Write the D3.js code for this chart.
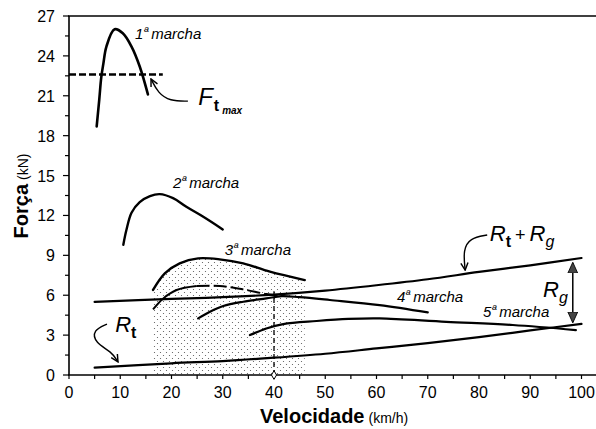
<!DOCTYPE html>
<html><head><meta charset="utf-8">
<script src="https://cdn.jsdelivr.net/npm/d3@7"></script>
<style>body{margin:0;background:#fff}svg{display:block}</style>
</head><body>
<svg id="c" width="596" height="429"></svg>
<script>
// ---------- data ----------
const xTickValues = [0,10,20,30,40,50,60,70,80,90,100];
const xMinorTicks = [5,15,25,35,45,55,65,75,85,95];
const yTickValues = [0,3,6,9,12,15,18,21,24,27];
const yMinorTicks = [1.5,4.5,7.5,10.5,13.5,16.5,19.5,22.5,25.5];

const gear1V = [5.4, 5.9, 6.3, 6.7, 7.3, 8.9, 10.5, 12.2, 13.8, 15.4];
const gear1F = [18.7, 20.7, 22.4, 23.4, 24.7, 26.0, 25.7, 24.7, 23.2, 21.1];

const gear2V = [10.6, 11.2, 12.2, 13.8, 15.8, 17.7, 20.3, 22.9, 26.2, 30.0];
const gear2F = [9.8, 10.9, 12.2, 13.0, 13.45, 13.6, 13.3, 12.65, 11.9, 10.95];

const gear3V = [16.4, 18.7, 21.6, 25.2, 29.4, 34.0, 39.2, 46.0];
const gear3F = [6.4, 7.65, 8.4, 8.77, 8.7, 8.4, 7.77, 7.14];

const midV = [16.4, 18.4, 21.0, 24.9, 29.4, 34.0, 38.5, 41.5];
const midF = [4.94, 5.76, 6.39, 6.69, 6.69, 6.44, 6.09, 5.95];

const gear4V = [25.2, 27.5, 30.1, 34.0, 38.5, 41.5, 45.0, 50.9, 60.6, 70.0];
const gear4F = [4.26, 4.76, 5.19, 5.51, 5.76, 5.93, 5.85, 5.64, 5.26, 4.71];

const gear5V = [35.3, 38.5, 41.8, 48.3, 54.5, 60.6, 73.6, 86.6, 98.9];
const gear5F = [3.0, 3.5, 3.83, 4.06, 4.22, 4.26, 4.0, 3.76, 3.38];

const rtV = [5, 20, 30, 40, 50, 60, 70, 80, 90, 100];
const rtF = [0.55, 0.88, 1.05, 1.3, 1.6, 2.0, 2.4, 2.85, 3.35, 3.85];

const rtgV = [5, 20, 30, 40, 50, 60, 70, 80, 90, 100];
const rtgF = [5.5, 5.72, 5.85, 6.05, 6.35, 6.75, 7.2, 7.75, 8.25, 8.8];

const ftMax = 22.6;
const ftMaxRange = [0, 18.3];
const refSpeed = 40;
const refSpeedTop = 6.3;
const rgSpeed = 98.3;
const rgRange = [8.4, 4.0];

const gearLabels = ["1", "2", "3", "4", "5"];
const gearLabelV = [12.9, 20.3, 30.4, 64.0, 80.8];
const gearLabelF = [25.26, 14.06, 9.02, 5.49, 4.36];

// annotation arrow paths (data units)
const ftArrowV = [23.2, 19.7, 17.4, 16.0];
const ftArrowF = [20.6, 20.6, 21.2, 22.26];
const rtArrowV = [7.41, 4.68, 5.07, 8.39, 9.56];
const rtArrowF = [3.83, 3.38, 2.41, 1.73, 0.98];
const rtgArrowV = [81.6, 78.2, 76.9, 77.3];
const rtgArrowF = [10.53, 10.30, 9.40, 7.89];

// ---------- chart ----------
const W = 596, H = 429;
const svg = d3.select("#c");
const FONT = "'Liberation Sans', Arial, Helvetica, sans-serif";
const x = d3.scaleLinear().domain([0,100]).range([69, 581.5]);
const y = d3.scaleLinear().domain([0,27]).range([375, 16]);

const defs = svg.append("defs");
const pat = defs.append("pattern").attr("id","dots").attr("patternUnits","userSpaceOnUse")
  .attr("width",6).attr("height",6);
pat.append("circle").attr("cx",1.5).attr("cy",1.5).attr("r",0.6).attr("fill","#555");
pat.append("circle").attr("cx",4.5).attr("cy",4.5).attr("r",0.6).attr("fill","#555");

defs.append("marker").attr("id","openArrow").attr("viewBox","0 0 10 10")
  .attr("refX",9).attr("refY",5).attr("markerWidth",9).attr("markerHeight",9)
  .attr("markerUnits","userSpaceOnUse").attr("orient","auto")
  .append("path").attr("d","M1,1 L9,5 L1,9").attr("fill","none").attr("stroke","#000").attr("stroke-width",1.6);

defs.append("marker").attr("id","triEnd").attr("viewBox","0 0 10 10")
  .attr("refX",9).attr("refY",5).attr("markerWidth",11).attr("markerHeight",11)
  .attr("markerUnits","userSpaceOnUse").attr("orient","auto")
  .append("path").attr("d","M0,0.5 L10,5 L0,9.5 Z").attr("fill","#444").attr("stroke","#000").attr("stroke-width",0.8);
defs.append("marker").attr("id","triStart").attr("viewBox","0 0 10 10")
  .attr("refX",1).attr("refY",5).attr("markerWidth",11).attr("markerHeight",11)
  .attr("markerUnits","userSpaceOnUse").attr("orient","auto")
  .append("path").attr("d","M10,0.5 L0,5 L10,9.5 Z").attr("fill","#444").attr("stroke","#000").attr("stroke-width",0.8);

const zip = (a,b) => a.map((v,i)=>[v,b[i]]);
const line = d3.line().x(d=>x(d[0])).y(d=>y(d[1])).curve(d3.curveCatmullRom.alpha(0.5));
const lineBasis = d3.line().x(d=>x(d[0])).y(d=>y(d[1])).curve(d3.curveBasis);

// stippled area under 3rd gear
const area = d3.area().x(d=>x(d[0])).y0(y(0)).y1(d=>y(d[1])).curve(d3.curveCatmullRom.alpha(0.5));
svg.append("path").attr("d", area(zip(gear3V,gear3F))).attr("fill","url(#dots)");

// axes
const gx = svg.append("g").attr("transform",`translate(0,${y(0)})`);
gx.append("line").attr("x1",x(0)-1).attr("x2",W).attr("stroke","#000").attr("stroke-width",1.6);
gx.selectAll(".mj").data(xTickValues.concat(xMinorTicks)).join("line")
  .attr("x1",d=>x(d)).attr("x2",d=>x(d)).attr("y1",0).attr("y2",4).attr("stroke","#000").attr("stroke-width",1.2);
gx.selectAll("text").data(xTickValues).join("text")
  .attr("x",d=>x(d)).attr("y",23).attr("text-anchor","middle")
  .attr("font-family",FONT).attr("font-size",16).text(d=>d);

const gy = svg.append("g").attr("transform",`translate(${x(0)},0)`);
gy.append("line").attr("y1",y(0)).attr("y2",y(27)).attr("stroke","#000").attr("stroke-width",1.6);
gy.selectAll(".mj").data(yTickValues).join("line")
  .attr("x1",-6).attr("x2",0).attr("y1",d=>y(d)).attr("y2",d=>y(d)).attr("stroke","#000").attr("stroke-width",1.2);
gy.selectAll(".mn").data(yMinorTicks).join("line")
  .attr("x1",-4).attr("x2",0).attr("y1",d=>y(d)).attr("y2",d=>y(d)).attr("stroke","#000").attr("stroke-width",1.2);
gy.selectAll("text").data(yTickValues).join("text")
  .attr("x",-14).attr("y",d=>y(d)+6).attr("text-anchor","end")
  .attr("font-family",FONT).attr("font-size",16).text(d=>d);
// top frame line
svg.append("line").attr("x1",x(0)-1).attr("x2",W).attr("y1",y(27)).attr("y2",y(27))
  .attr("stroke","#000").attr("stroke-width",1.6);

// axis titles
const xt = svg.append("text").attr("x",260).attr("y",423).attr("font-family",FONT).attr("font-weight","bold");
xt.append("tspan").attr("font-size",20).text("Velocidade");
xt.append("tspan").attr("font-size",14).attr("font-weight","normal").attr("dx",4).text("(km/h)");
const yt = svg.append("text").attr("transform",`translate(28,196) rotate(-90)`).attr("text-anchor","middle")
  .attr("font-family",FONT).attr("font-weight","bold");
yt.append("tspan").attr("font-size",20).text("Força");
yt.append("tspan").attr("font-size",14).attr("font-weight","normal").attr("dx",4).text("(kN)");

// curves
const curves = [[gear1V,gear1F,2.6],[gear2V,gear2F,2.4],[gear3V,gear3F,2.4],[gear4V,gear4F,2.2],
  [gear5V,gear5F,2.2],[rtV,rtF,2.2],[rtgV,rtgF,2.2]];
curves.forEach(([v,f,w]) => {
  svg.append("path").attr("d", line(zip(v,f))).attr("fill","none").attr("stroke","#000")
    .attr("stroke-width",w).attr("stroke-linecap","round");
});
// middle curve: solid start, dashed remainder
svg.append("path").attr("d", line(zip(midV.slice(0,4),midF.slice(0,4)))).attr("fill","none")
  .attr("stroke","#000").attr("stroke-width",2);
svg.append("path").attr("d", line(zip(midV.slice(3),midF.slice(3)))).attr("fill","none")
  .attr("stroke","#000").attr("stroke-width",2).attr("stroke-dasharray","13,4");

// Ft max dashed
svg.append("line").attr("x1",x(ftMaxRange[0])).attr("x2",x(ftMaxRange[1]))
  .attr("y1",y(ftMax)).attr("y2",y(ftMax)).attr("stroke","#000").attr("stroke-width",2.4)
  .attr("stroke-dasharray","7,3");

// vertical dashed at 40 km/h
svg.append("line").attr("x1",x(refSpeed)).attr("x2",x(refSpeed)).attr("y1",y(0)).attr("y2",y(refSpeedTop))
  .attr("stroke","#000").attr("stroke-width",1.3).attr("stroke-dasharray","5,3");
svg.append("path").attr("d", d3.symbol().type(d3.symbolDiamond).size(22)())
  .attr("transform",`translate(${x(refSpeed)},${y(0)})`).attr("fill","#fff").attr("stroke","#000").attr("stroke-width",1);

// Rg double arrow
svg.append("line").attr("x1",x(rgSpeed)).attr("x2",x(rgSpeed)).attr("y1",y(rgRange[0])).attr("y2",y(rgRange[1]))
  .attr("stroke","#000").attr("stroke-width",1.5).attr("marker-start","url(#triStart)").attr("marker-end","url(#triEnd)");

// annotation arrows
[[ftArrowV,ftArrowF],[rtArrowV,rtArrowF],[rtgArrowV,rtgArrowF]].forEach(([v,f]) => {
  svg.append("path").attr("d", lineBasis(zip(v,f))).attr("fill","none").attr("stroke","#000")
    .attr("stroke-width",1.4).attr("marker-end","url(#openArrow)");
});

// gear labels
gearLabels.forEach((g,i) => {
  const t = svg.append("text").attr("x",x(gearLabelV[i])).attr("y",y(gearLabelF[i]))
    .attr("font-family",FONT).attr("font-style","italic").attr("font-size",15);
  t.append("tspan").text(g);
  t.append("tspan").attr("font-size",13).attr("dy",-3).text("ª");
  t.append("tspan").attr("dy",3).attr("dx",3).text("marcha");
});

// symbol labels
function sym(vx, fy, size) {
  return svg.append("text").attr("x",x(vx)).attr("y",y(fy)).attr("font-family",FONT).attr("font-size",size);
}
// F t max
let t = sym(25.2, 20.3, 24);
t.append("tspan").attr("font-style","italic").text("F");
t.append("tspan").attr("font-size",16).attr("font-weight","bold").attr("dy",6).attr("dx",1).text("t");
t.append("tspan").attr("font-size",10).attr("font-weight","bold").attr("font-style","italic").attr("dy",3).attr("dx",3).text("max");
// R t
t = sym(9.0, 3.23, 22);
t.append("tspan").attr("font-style","italic").text("R");
t.append("tspan").attr("font-size",16).attr("font-weight","bold").attr("dy",6).text("t");
// R t + R g
t = sym(82.1, 10.07, 22);
t.append("tspan").attr("font-style","italic").text("R");
t.append("tspan").attr("font-size",16).attr("font-weight","bold").attr("dy",6).text("t");
t.append("tspan").attr("font-size",18).attr("dy",-6).attr("dx",4).text("+");
t.append("tspan").attr("font-style","italic").attr("dx",4).text("R");
t.append("tspan").attr("font-size",16).attr("font-style","italic").attr("dy",6).text("g");
// R g
t = sym(92.5, 5.86, 22);
t.append("tspan").attr("font-style","italic").text("R");
t.append("tspan").attr("font-size",16).attr("font-style","italic").attr("dy",6).text("g");
</script>
</body></html>
